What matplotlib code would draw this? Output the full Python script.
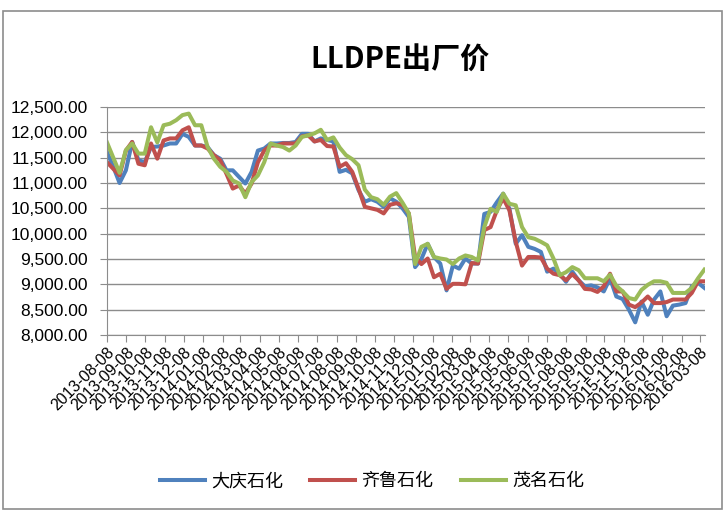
import pandas as pd
import matplotlib
matplotlib.use('Agg')
import matplotlib.pyplot as plt
import matplotlib.dates as mdates
from matplotlib.ticker import FuncFormatter
from matplotlib.patches import Rectangle

plt.rcParams['font.family'] = ['Liberation Sans', 'Noto Sans CJK SC', 'DejaVu Sans']
plt.rcParams['axes.unicode_minus'] = False

# 数据：每10天一个点，2013-08-08 起
dates = pd.date_range('2013-08-08', periods=96, freq='10D')

daqing = [11610, 11320, 11000, 11250, 11810, 11450, 11410, 11710, 11720, 11740,
          11780, 11780, 11970, 11910, 11740, 11740, 11710, 11550, 11480, 11250,
          11250, 11120, 10990, 11220, 11640, 11680, 11780, 11780, 11790, 11790,
          11810, 11970, 11970, 11820, 11880, 11850, 11820, 11220, 11260, 11190,
          10860, 10630, 10680, 10630, 10530, 10700, 10630, 10500, 10330, 9340,
          9500, 9800, 9540, 9410, 8880, 9370, 9310, 9510, 9410, 9410,
          10390, 10430, 10620, 10790, 10490, 9800, 9970, 9740, 9700, 9640,
          9250, 9310, 9210, 9050, 9250, 9080, 8960, 8980, 8940, 8860,
          9120, 8760, 8710, 8500, 8250, 8660, 8400, 8700, 8860, 8370,
          8580, 8600, 8630, 8960, 9030, 8930]

qilu = [11410, 11280, 11150, 11640, 11810, 11380, 11350, 11780, 11480, 11840,
        11880, 11880, 12040, 12100, 11740, 11740, 11680, 11550, 11450, 11180,
        10890, 10950, 10790, 10990, 11410, 11640, 11740, 11740, 11780, 11780,
        11780, 11920, 11940, 11820, 11850, 11730, 11720, 11320, 11390, 11220,
        10890, 10530, 10500, 10470, 10400, 10570, 10600, 10570, 10400, 9540,
        9400, 9510, 9140, 9210, 8910, 9010, 9010, 9000, 9420, 9410,
        10070, 10130, 10460, 10700, 10460, 9840, 9370, 9540, 9540, 9530,
        9310, 9210, 9180, 9080, 9200, 9080, 8910, 8900, 8850, 8960,
        9210, 8860, 8860, 8600, 8550, 8640, 8760, 8630, 8630, 8650,
        8700, 8700, 8700, 8830, 9060, 9060]

maoming = [11800, 11500, 11200, 11650, 11780, 11580, 11580, 12100, 11800, 12140,
           12170, 12240, 12340, 12370, 12140, 12140, 11710, 11480, 11320, 11220,
           11050, 10990, 10720, 11020, 11150, 11410, 11780, 11740, 11710, 11640,
           11740, 11910, 11940, 11980, 12050, 11850, 11900, 11700, 11550, 11470,
           11350, 10870, 10720, 10680, 10570, 10730, 10800, 10610, 10400, 9400,
           9740, 9800, 9540, 9510, 9490, 9400, 9510, 9570, 9540, 9470,
           10130, 10490, 10430, 10790, 10590, 10560, 10130, 9930, 9900, 9840,
           9770, 9510, 9180, 9240, 9340, 9280, 9120, 9120, 9120, 9060,
           9190, 8970, 8860, 8730, 8700, 8890, 8990, 9060, 9060, 9030,
           8830, 8830, 8830, 8930, 9120, 9290]

series_names = ['大庆石化', '齐鲁石化', '茂名石化']
colors = ['#4F81BD', '#C0504D', '#9BBB59']

fig = plt.figure(figsize=(7.25, 5.12), dpi=100)
ax = fig.add_axes([107 / 725, 1 - 335 / 512, 598 / 725, 228 / 512])

for vals, name, c in zip([daqing, qilu, maoming], series_names, colors):
    ax.plot(dates, vals, color=c, linewidth=2.9, label=name,
            solid_joinstyle='round')

ax.set_ylim(8000, 12500)
ax.set_yticks(range(8000, 12501, 500))
ax.yaxis.set_major_formatter(FuncFormatter(lambda v, p: '{:,.2f}'.format(v)))
ax.set_xlim(dates[0], dates[0] + pd.Timedelta(days=951))
ax.xaxis.set_major_locator(mdates.MonthLocator(bymonthday=8))
ax.xaxis.set_major_formatter(mdates.DateFormatter('%Y-%m-%d'))

ax.grid(axis='y', color='#8C8C8C', linewidth=1)
ax.set_axisbelow(True)
for s in ['top', 'right']:
    ax.spines[s].set_visible(False)
for s in ['left', 'bottom']:
    ax.spines[s].set_color('#8C8C8C')
ax.tick_params(axis='y', length=5, color='#8C8C8C', labelsize=12.5, pad=9)
ax.tick_params(axis='x', length=5, color='#8C8C8C', labelsize=11.5, pad=2)
plt.setp(ax.get_xticklabels(), rotation=45, ha='right', rotation_mode='anchor')

fig.text(0.552, 0.883, 'LLDPE出厂价', ha='center', va='center', fontsize=21,
         fontweight='bold', family=['Noto Sans CJK SC', 'DejaVu Sans'])

fig.legend(loc='center', bbox_to_anchor=(0.513, 0.06), ncol=3, frameon=False,
           prop={'family': ['Noto Sans CJK SC'], 'size': 13},
           handlelength=2.5, handletextpad=0.35, columnspacing=1.5)

fig.patches.append(Rectangle((3 / 725, 3 / 512), 719 / 725, 498 / 512,
                             transform=fig.transFigure, fill=False,
                             edgecolor='#8C8C8C', linewidth=1.2))

fig.savefig('out.png', dpi=100)
